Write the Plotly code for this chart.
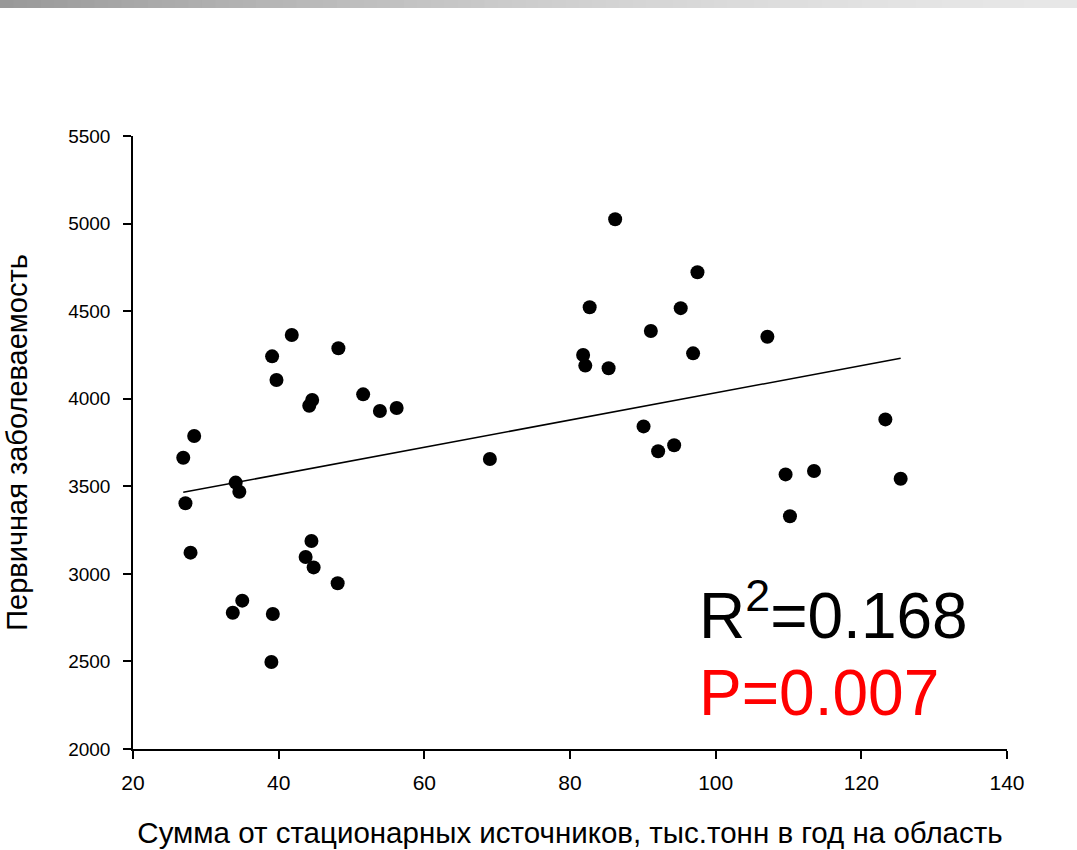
import numpy as np
import plotly.graph_objects as go

# Data
emissions = [26.9, 27.2, 27.9, 28.4, 33.7, 34.1, 34.6, 35.0, 39.0, 39.1, 39.2, 39.7,
             41.8, 43.7, 44.2, 44.5, 44.6, 44.8, 48.1, 48.2, 51.6, 53.9, 56.2, 69.0,
             81.8, 82.1, 82.7, 85.3, 86.2, 90.1, 91.1, 92.1, 94.3, 95.2, 96.9, 97.5,
             107.1, 109.6, 110.2, 113.5, 123.3, 125.4]
incidence = [3663, 3403, 3121, 3787, 2778, 3521, 3469, 2847, 2497, 4242, 2771, 4107,
             4364, 3096, 3960, 3188, 3993, 3037, 2946, 4288, 4025, 3930, 3947, 3656,
             4250, 4189, 4522, 4174, 5025, 3842, 4387, 3700, 3734, 4517, 4259, 4722,
             4354, 3568, 3329, 3587, 3882, 3543]
x_ticks = [20, 40, 60, 80, 100, 120, 140]
y_ticks = [2000, 2500, 3000, 3500, 4000, 4500, 5000, 5500]
r2_label = "R<sup>2</sup>=0.168"
p_label = "P=0.007"
x_title = "Сумма от стационарных источников, тыс.тонн в год на область"
y_title = "Первичная заболеваемость"

W, H = 1077, 850
L, R, T, B = 133, 70, 136, 101
pw, ph = W - L - R, H - T - B

xs = np.array(emissions)
ys = np.array(incidence)
slope, intercept = np.polyfit(xs, ys, 1)
xl = np.array([xs.min(), xs.max()])
yl = intercept + slope * xl

fig = go.Figure()
fig.add_trace(go.Scatter(x=xl, y=yl, mode="lines",
                         line=dict(color="black", width=1.5), showlegend=False,
                         hoverinfo="skip"))
fig.add_trace(go.Scatter(x=emissions, y=incidence, mode="markers",
                         marker=dict(color="black", size=14), showlegend=False))

# Top gradient bar (decoration)
shapes = []
n = 80
x_left = -L / pw
x_right = (W - L) / pw
y_top = 1 + T / ph
y_bot = 1 + (T - 8) / ph
for i in range(n):
    t = i / (n - 1)
    c = int(round(153 + (231 - 153) * (1 - (1 - t) ** 1.6)))
    x0 = x_left + (x_right - x_left) * i / n
    x1 = x_left + (x_right - x_left) * (i + 1) / n + 0.001
    shapes.append(dict(type="rect", xref="paper", yref="paper", x0=x0, x1=x1,
                       y0=y_bot, y1=y_top, line=dict(width=0),
                       fillcolor=f"rgb({c},{c},{c})", layer="above"))

fig.update_layout(
    width=W, height=H,
    margin=dict(l=L, r=R, t=T, b=B, autoexpand=False),
    paper_bgcolor="white", plot_bgcolor="white",
    font=dict(family="Liberation Sans, Arial, sans-serif", color="black"),
    shapes=shapes,
    xaxis=dict(range=[20, 140], tickvals=x_ticks, showgrid=False, zeroline=False,
               showline=True, linecolor="black", linewidth=1.5,
               ticks="outside", ticklen=8, tickwidth=1.5, tickcolor="black",
               ticklabelstandoff=6,
               tickfont=dict(size=21), title=dict(text=x_title, font=dict(size=29.5), standoff=29)),
    yaxis=dict(range=[2000, 5500], tickvals=y_ticks, showgrid=False, zeroline=False,
               showline=True, linecolor="black", linewidth=1.5,
               ticks="outside", ticklen=8, tickwidth=1.5, tickcolor="black",
               ticklabelstandoff=9,
               tickfont=dict(size=19), title=dict(text=y_title, font=dict(size=29), standoff=32)),
    annotations=[
        dict(x=97.5, y=2787, xref="x", yref="y", text=r2_label, showarrow=False,
             xanchor="left", yanchor="middle", font=dict(size=64, color="black")),
        dict(x=97.5, y=2320, xref="x", yref="y", text=p_label, showarrow=False,
             xanchor="left", yanchor="middle", font=dict(size=64, color="red")),
    ],
)

fig.write_html("out.html", config={"displayModeBar": False},
               post_script="document.body.style.margin='0';document.body.style.padding='0';")
